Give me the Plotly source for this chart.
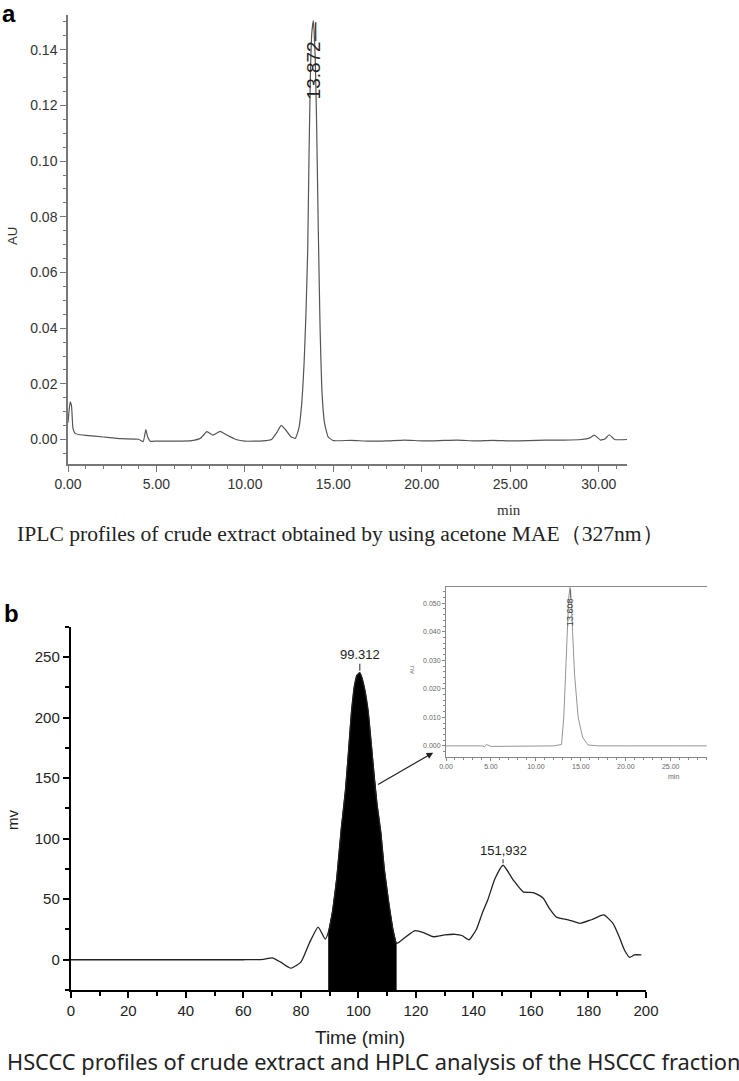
import plotly.graph_objects as go

# ---- panel a: HPLC of crude extract (min, AU)
time_a = [0.0, 0.12, 0.2, 0.28, 0.4, 0.6, 1.0, 2.0, 3.0, 4.0, 4.25, 4.4, 4.5, 4.65, 5.0, 6.0, 7.0, 7.5,
          7.85, 8.2, 8.6, 9.0, 9.5, 10.0, 11.0, 11.5, 11.8, 12.05, 12.3, 12.6, 12.85, 13.05, 13.2, 13.35,
          13.45, 13.55, 13.62, 13.7, 13.78, 13.87, 13.97, 14.05, 14.15, 14.25, 14.35, 14.5, 14.7, 15.0,
          16.0, 17.0, 18.0, 19.0, 20.0, 21.0, 22.0, 23.0, 24.0, 25.0, 26.0, 27.0, 28.0, 29.0, 29.5,
          29.75, 30.1, 30.35, 30.6, 30.9, 31.6]
au_a = [0.006, 0.0135, 0.012, 0.004, 0.0022, 0.0018, 0.0015, 0.0009, 0.0003, 0.0001, -0.0008, 0.0036,
        0.001, -0.0006, -0.0006, -0.0006, -0.0004, 0.0005, 0.0028, 0.0016, 0.0029, 0.0015, 0.0, -0.0006,
        -0.0005, 0.0, 0.0025, 0.0051, 0.0035, 0.001, 0.0004, 0.004, 0.012, 0.028, 0.045, 0.068, 0.1,
        0.13, 0.146, 0.1505, 0.138, 0.115, 0.075, 0.04, 0.018, 0.006, 0.001, -0.0004, -0.0003, -0.0006,
        -0.0005, -0.0002, -0.0005, -0.0004, -0.0002, -0.0005, -0.0003, -0.0005, -0.0004, -0.0002,
        -0.0002, 0.0, 0.0006, 0.0016, -0.0002, 0.0002, 0.0017, 0.0, 0.0]
peak_a_label = "13.872"

# ---- panel b: HSCCC profile (min, mV)
time_b = [0, 20, 40, 60, 67, 70, 73, 76.5, 80, 83, 86, 88.5, 89.7, 91, 92.5, 94, 95.5, 96.5, 97.6, 98.6,
          99.5, 100.5, 101.2, 102.3, 103.4, 104.6, 105.5, 106.5, 107.8, 109, 110.5, 112, 113.1, 113.6,
          116, 119.7, 123, 126, 130, 133.6, 136, 138.5, 141, 143, 145, 147.5, 150.3, 153.8, 157.3, 160.8,
          164.2, 166.5, 169, 173, 177, 181, 185.3, 188.5, 190.5, 192.5, 194.3, 196, 198.4]
mv_b = [0, 0, 0, 0, 0.3, 1.5, -2, -7, -2, 14, 27, 17, 24, 40, 68, 107, 140, 170, 205, 226, 235, 237, 233,
        222, 205, 175, 150, 128, 105, 75, 48, 25, 14, 13.7, 18, 24, 22, 19, 20.5, 21, 20, 16.5, 25, 38,
        49.5, 67, 78, 66, 56, 55.5, 51, 42, 35, 33, 30, 33, 37, 30, 20, 8, 2, 4, 4]
fraction_start, fraction_end = 89.7, 113.1
peak_b_labels = ["99.312", "151,932"]

# ---- inset: HPLC of the HSCCC fraction (min, AU)
time_i = [0, 2, 4, 4.3, 4.5, 5, 8, 10, 12, 12.85, 13.1, 13.3, 13.5, 13.65, 13.8, 13.95, 14.08, 14.3,
          14.7, 15.2, 15.8, 17, 20, 25, 29]
au_i = [0, 0, 0, -0.0003, 0.0005, -0.0002, -0.0002, -0.0001, 0, 0.0005, 0.01, 0.025, 0.04, 0.052, 0.0555,
        0.05, 0.04, 0.025, 0.01, 0.003, 0.0003, 0, 0, 0, 0]
peak_i_label = "13.608"

W, H = 739, 1081


def fx(p):
    return p / W


def fy(p):
    return 1 - p / H


fig = go.Figure()

fig.add_trace(go.Scatter(x=time_a, y=au_a, mode="lines", xaxis="x", yaxis="y",
                         line=dict(color="#555555", width=1.2, shape="spline", smoothing=0.4)))

# black fraction of the HSCCC peak
y2_min = -25
fr_t = [t for t in time_b if fraction_start <= t <= fraction_end]
fr_v = [v for t, v in zip(time_b, mv_b) if fraction_start <= t <= fraction_end]
fig.add_trace(go.Scatter(x=[fr_t[0]] + fr_t + [fr_t[-1]], y=[y2_min] + fr_v + [y2_min],
                         mode="lines", fill="toself", fillcolor="black", xaxis="x2", yaxis="y2",
                         line=dict(color="black", width=1)))
fig.add_trace(go.Scatter(x=time_b, y=mv_b, mode="lines", xaxis="x2", yaxis="y2",
                         line=dict(color="#222222", width=1.3, shape="spline", smoothing=0.5)))

fig.add_trace(go.Scatter(x=time_i, y=au_i, mode="lines", xaxis="x3", yaxis="y3",
                         line=dict(color="#888888", width=0.9)))

tickfont_a = dict(family="Liberation Sans, Arial", size=14, color="#333")
fig.update_layout(
    width=W, height=H, margin=dict(l=0, r=0, t=0, b=0, autoexpand=False), showlegend=False,
    paper_bgcolor="white", plot_bgcolor="white",
    xaxis=dict(domain=[fx(68), fx(627)], range=[0, 31.6], anchor="y", dtick=5, tick0=0,
               tickformat=".2f", ticks="outside", ticklen=6, tickcolor="#777", linecolor="#777",
               linewidth=1.5, showline=True, showgrid=False, zeroline=False, tickfont=tickfont_a,
               automargin=False,
               minor=dict(dtick=1, ticks="outside", ticklen=3, tickcolor="#777")),
    yaxis=dict(domain=[fy(464), fy(15)], range=[-0.0088, 0.1525], anchor="x", dtick=0.02, tick0=0,
               tickformat=".2f", ticks="outside", ticklen=6, tickcolor="#777", linecolor="#777",
               linewidth=1.5, showline=True, showgrid=False, zeroline=False, tickfont=tickfont_a,
               automargin=False,
               minor=dict(dtick=0.005, ticks="outside", ticklen=3, tickcolor="#777")),
    xaxis2=dict(domain=[fx(70.8), fx(646)], range=[0, 200], anchor="y2", dtick=20, tick0=0,
                ticks="outside", ticklen=6, tickwidth=2, tickcolor="black", linecolor="black",
                linewidth=2, showline=True, showgrid=False, zeroline=False, automargin=False,
                tickfont=dict(family="Liberation Sans, Arial", size=15, color="#222"),
                minor=dict(dtick=10, ticks="outside", ticklen=4, tickwidth=1.5, tickcolor="black")),
    yaxis2=dict(domain=[fy(990), fy(626.7)], range=[y2_min, 275], anchor="x2", dtick=50, tick0=0,
                ticks="outside", ticklen=6, tickwidth=2, tickcolor="black", linecolor="black",
                linewidth=2, showline=True, showgrid=False, zeroline=False, automargin=False,
                tickfont=dict(family="Liberation Sans, Arial", size=15, color="#222"),
                minor=dict(dtick=25, ticks="outside", ticklen=4, tickwidth=1.5, tickcolor="black")),
    xaxis3=dict(domain=[fx(446), fx(706.7)], range=[0, 29], anchor="y3", dtick=5, tick0=0,
                tickformat=".2f", ticks="outside", ticklen=3, tickcolor="#888", linecolor="#888",
                linewidth=1, showline=True, mirror=True, showgrid=False, zeroline=False,
                automargin=False,
                tickfont=dict(family="Liberation Sans, Arial", size=7, color="#666"),
                minor=dict(dtick=1, ticks="outside", ticklen=2, tickcolor="#888")),
    yaxis3=dict(domain=[fy(756.7), fy(587)], range=[-0.0038, 0.0557], anchor="x3", dtick=0.01, tick0=0,
                tickformat=".3f", ticks="outside", ticklen=3, tickcolor="#888", linecolor="#888",
                linewidth=1, showline=True, showgrid=False, zeroline=False, automargin=False,
                tickfont=dict(family="Liberation Sans, Arial", size=7, color="#666"),
                minor=dict(dtick=0.002, ticks="outside", ticklen=2, tickcolor="#888")),
)

ann = []


def paper_text(text, x, y, size, family="Liberation Sans, Arial", color="#222", angle=0, bold=False):
    ann.append(dict(text="<b>%s</b>" % text if bold else text, x=fx(x), y=fy(y), xref="paper",
                    yref="paper", showarrow=False, textangle=angle, xanchor="center", yanchor="middle",
                    font=dict(family=family, size=size, color=color)))


paper_text("a", 9, 13, 24, color="black", bold=True)
paper_text("b", 11, 613, 24, color="black", bold=True)
paper_text("AU", 12, 236, 13, color="#333", angle=-90)
paper_text("min", 509, 510, 15, family="Liberation Serif, Times New Roman", color="#333")
paper_text("IPLC profiles of crude extract obtained by using acetone MAE（327nm）", 340, 534, 21.6,
           family="Liberation Serif, Times New Roman", color="#222")
paper_text("mv", 12, 820, 15, color="#222", angle=-90)
paper_text("Time (min)", 360, 1037, 19, color="#222")
paper_text("HSCCC profiles of crude extract and HPLC analysis of the HSCCC fraction", 373, 1061, 21.8,
           family="Noto Sans, Open Sans", color="#222")
paper_text("AU", 412, 670, 6, color="#666", angle=-90)
paper_text("min", 673, 776, 7, color="#666")

# peak labels taken from the apex of each trace
ia = au_a.index(max(au_a))
ann.append(dict(text=peak_a_label + "—", x=time_a[ia], y=au_a[ia], xref="x", yref="y", showarrow=False,
                textangle=-90, xanchor="center", yanchor="top",
                font=dict(family="Liberation Sans, Arial", size=19, color="#222")))
ii = au_i.index(max(au_i))
ann.append(dict(text=peak_i_label + "—", x=time_i[ii], y=au_i[ii], xref="x3", yref="y3", showarrow=False,
                textangle=-90, xanchor="center", yanchor="top",
                font=dict(family="Liberation Sans, Arial", size=9, color="#444")))

ib1 = mv_b.index(max(mv_b))
second = [v if t > 130 else -1e9 for t, v in zip(time_b, mv_b)]
ib2 = second.index(max(second))
for idx, lab, off in [(ib1, peak_b_labels[0], -18), (ib2, peak_b_labels[1], -15)]:
    ann.append(dict(text=lab, x=time_b[idx], y=mv_b[idx], xref="x2", yref="y2", showarrow=True,
                    arrowhead=0, arrowwidth=1, arrowcolor="#222", ax=0, ay=off, standoff=2,
                    font=dict(family="Liberation Sans, Arial", size=13, color="#222")))

# arrow from the collected fraction to the inset
ann.append(dict(text="", x=126, y=171, xref="x2", yref="y2", ax=106.3, ay=144, axref="x2", ayref="y2",
                showarrow=True, arrowhead=2, arrowsize=1.1, arrowwidth=1.2, arrowcolor="#222"))

fig.update_layout(annotations=ann)
# drop the default page margin so the figure sits at the window's top-left corner
fig.write_html("out.html", config={"displayModeBar": False},
               post_script="document.body.style.margin='0';document.body.style.overflow='hidden';")
